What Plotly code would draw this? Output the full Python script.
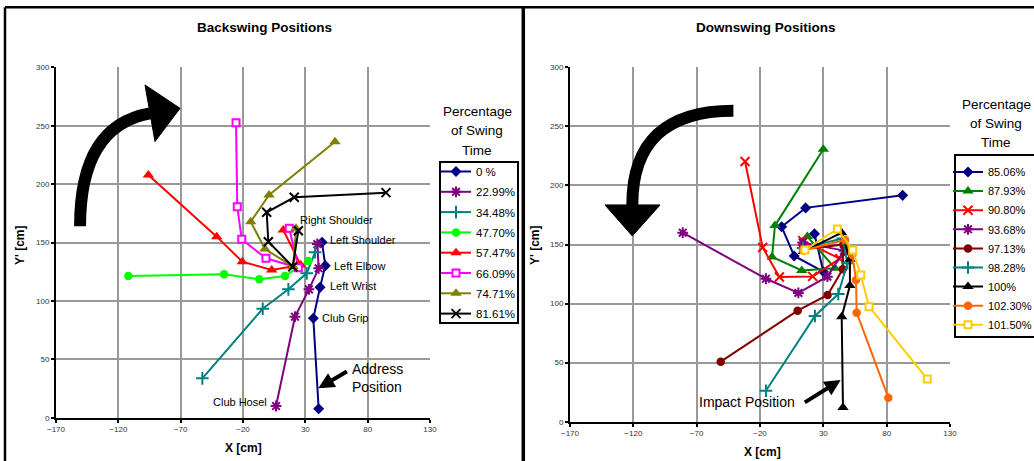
import plotly.graph_objects as go

FONT = "Liberation Sans, Arial, sans-serif"

# ---------------- Backswing data (hosel -> grip -> wrist -> elbow -> L shoulder -> R shoulder)
bs_names = ["0 %", "22.99%", "34.48%", "47.70%", "57.47%", "66.09%", "74.71%", "81.61%"]
bs_000_x = [40.7, 36.4, 41.8, 46.0, 43.4]
bs_000_y = [7.7, 85.1, 111.6, 130.2, 150.2]
bs_023_x = [6.5, 21.7, 32.9, 40.7, 39.6]
bs_023_y = [10.0, 86.5, 109.9, 127.9, 148.7]
bs_034_x = [-52.6, -4.2, 16.4, 31.1, 37.8]
bs_034_y = [33.7, 93.3, 109.9, 123.6, 141.6]
bs_048_x = [-112.0, -35.2, -6.9, 13.7, 32.4]
bs_048_y = [121.3, 122.8, 118.5, 121.3, 134.2]
bs_057_x = [-95.9, -41.1, -20.6, 3.0, 26.3, 12.3]
bs_057_y = [207.8, 155.0, 133.6, 126.5, 130.7, 160.7]
bs_066_x = [-25.6, -24.6, -21.0, -1.6, 24.4, 17.1]
bs_066_y = [252.6, 180.7, 152.7, 136.5, 128.4, 162.2]
bs_075_x = [53.8, 0.9, -13.8, -2.4, 20.3, 22.5]
bs_075_y = [236.3, 190.7, 167.8, 144.4, 129.3, 162.2]
bs_082_x = [94.7, 21.1, -1.0, 0.3, 19.9, 24.4]
bs_082_y = [192.7, 188.7, 175.9, 150.7, 129.3, 160.1]

# ---------------- Downswing data
ds_names = ["85.06%", "87.93%", "90.80%", "93.68%", "97.13%", "98.28%", "100%", "102.30%", "101.50%"]
ds_085_x = [92.6, 16.0, -2.9, 7.0, 30.0, 23.0]
ds_085_y = [191.6, 181.0, 165.0, 140.3, 127.0, 159.0]
ds_088_x = [30.0, -8.2, -10.5, 13.0, 39.2, 17.4]
ds_088_y = [230.6, 166.0, 139.5, 128.0, 129.9, 156.7]
ds_091_x = [-31.8, -17.9, -4.7, 21.6, 43.0, 13.8]
ds_091_y = [220.2, 147.5, 122.5, 123.0, 138.0, 153.3]
ds_094_x = [-81.0, -15.3, 10.3, 33.2, 46.3, 13.7]
ds_094_y = [160.0, 121.0, 109.0, 122.8, 144.8, 151.6]
ds_097_x = [-51.0, 9.7, 33.4, 45.3, 45.8, 14.0]
ds_097_y = [50.8, 94.0, 107.3, 129.0, 150.0, 146.0]
ds_098_x = [-15.3, 23.4, 41.8, 49.0, 45.3, 14.0]
ds_098_y = [26.2, 89.5, 108.1, 134.1, 155.0, 147.0]
ds_100_x = [45.5, 44.5, 51.0, 51.0, 44.5, 14.2]
ds_100_y = [12.0, 88.9, 115.2, 137.5, 160.0, 144.0]
ds_102_x = [81.3, 56.3, 55.8, 52.9, 47.1, 14.0]
ds_102_y = [20.3, 92.3, 120.0, 141.1, 153.8, 145.0]
ds_101_x = [112.1, 66.1, 59.5, 53.2, 41.1, 15.5]
ds_101_y = [36.1, 97.4, 124.2, 145.4, 163.1, 145.4]

x_ticks = [-170, -120, -70, -20, 30, 80, 130]
y_ticks = [0, 50, 100, 150, 200, 250, 300]

W, H = 1034, 461

bs_series = [(bs_000_x, bs_000_y), (bs_023_x, bs_023_y), (bs_034_x, bs_034_y), (bs_048_x, bs_048_y),
             (bs_057_x, bs_057_y), (bs_066_x, bs_066_y), (bs_075_x, bs_075_y), (bs_082_x, bs_082_y)]
bs_style = [("#000080", "diamond"), ("#800080", "asterisk"), ("#008080", "cross-thin"),
            ("#00FF00", "circle"), ("#FF0000", "triangle-up"), ("#FF00FF", "square"),
            ("#808000", "triangle-up"), ("#000000", "x-thin")]

ds_series = [(ds_085_x, ds_085_y), (ds_088_x, ds_088_y), (ds_091_x, ds_091_y), (ds_094_x, ds_094_y),
             (ds_097_x, ds_097_y), (ds_098_x, ds_098_y), (ds_100_x, ds_100_y), (ds_102_x, ds_102_y),
             (ds_101_x, ds_101_y)]
ds_style = [("#000080", "diamond"), ("#008000", "triangle-up"), ("#FF0000", "x-thin"),
            ("#800080", "asterisk"), ("#800000", "circle"), ("#008080", "cross-thin"),
            ("#000000", "triangle-up"), ("#FF6600", "circle"), ("#FFCC00", "square")]


def marker_for(color, sym):
    if sym in ("asterisk", "x-thin", "cross-thin"):
        return dict(symbol=sym, size=9, color=color, line=dict(color=color, width=2))
    if sym == "square":
        return dict(symbol=sym, size=7, color="white", line=dict(color=color, width=2))
    if sym == "triangle-up":
        return dict(symbol=sym, size=10, color=color, line=dict(width=0))
    return dict(symbol=sym, size=8.5, color=color, line=dict(width=0))


fig = go.Figure()
for i, (name, (xs, ys), (c, s)) in enumerate(zip(bs_names, bs_series, bs_style)):
    fig.add_trace(go.Scatter(x=xs, y=ys, name=name, mode="lines+markers", legendgroup="b%d" % i,
                             line=dict(color=c, width=2), marker=marker_for(c, s),
                             xaxis="x", yaxis="y", legend="legend"))
for i, (name, (xs, ys), (c, s)) in enumerate(zip(ds_names, ds_series, ds_style)):
    fig.add_trace(go.Scatter(x=xs, y=ys, name=name, mode="lines+markers", legendgroup="d%d" % i,
                             line=dict(color=c, width=2), marker=marker_for(c, s),
                             xaxis="x2", yaxis="y2", legend="legend2"))

axis_common = dict(showgrid=True, gridcolor="#999999", gridwidth=1.5, zeroline=False,
                   showline=True, linecolor="black", linewidth=2, ticks="outside",
                   ticklen=3, tickwidth=1.5, tickcolor="black",
                   tickfont=dict(family=FONT, size=8, color="#333333"), fixedrange=True)

fig.update_layout(
    width=W, height=H, margin=dict(l=0, r=0, t=0, b=0, autoexpand=False),
    paper_bgcolor="white", plot_bgcolor="white", showlegend=True,
    xaxis=dict(domain=[56 / W, 430 / W], range=[-170, 130], tickvals=x_ticks, anchor="y", **axis_common),
    yaxis=dict(domain=[1 - 417.7 / H, 1 - 67.3 / H], range=[0, 300], tickvals=y_ticks, anchor="x", **axis_common),
    xaxis2=dict(domain=[570 / W, 950 / W], range=[-170, 130], tickvals=x_ticks, anchor="y2", **axis_common),
    yaxis2=dict(domain=[1 - 421.7 / H, 1 - 67.3 / H], range=[0, 300], tickvals=y_ticks, anchor="x2", **axis_common),
    legend=dict(x=436 / W, y=1 - 157 / H, xanchor="left", yanchor="top", bgcolor="rgba(0,0,0,0)",
                borderwidth=0, itemwidth=30, tracegroupgap=1.3,
                font=dict(family=FONT, size=11.5, color="black")),
    legend2=dict(x=948 / W, y=1 - 157.5 / H, xanchor="left", yanchor="top", bgcolor="rgba(0,0,0,0)",
                 borderwidth=0, itemwidth=30, tracegroupgap=0.1,
                 font=dict(family=FONT, size=11, color="black")),
)

shapes = []
# frame lines
shapes.append(dict(type="line", xref="paper", yref="paper", x0=5 / W, x1=1, y0=1 - 7.3 / H, y1=1 - 7.3 / H,
                   line=dict(color="black", width=2.5)))
shapes.append(dict(type="line", xref="paper", yref="paper", x0=5 / W, x1=5 / W, y0=0, y1=1 - 7.3 / H,
                   line=dict(color="black", width=2.5)))
shapes.append(dict(type="line", xref="paper", yref="paper", x0=523.3 / W, x1=523.3 / W, y0=0, y1=1 - 7.3 / H,
                   line=dict(color="black", width=3.5)))
# legend boxes
shapes.append(dict(type="rect", xref="paper", yref="paper", x0=440 / W, x1=518 / W, y0=1 - 323 / H, y1=1 - 162 / H,
                   line=dict(color="black", width=2), fillcolor="rgba(0,0,0,0)"))
shapes.append(dict(type="rect", xref="paper", yref="paper", x0=955 / W, x1=1045 / W, y0=1 - 337 / H, y1=1 - 155 / H,
                   line=dict(color="black", width=2), fillcolor="rgba(0,0,0,0)"))
# curved arrow (backswing)
shapes.append(dict(type="path", xref="x", yref="y", path="M -150.7,164 Q -150.7,250.1 -94.6,260.6",
                   line=dict(color="black", width=12), fillcolor="rgba(0,0,0,0)"))
shapes.append(dict(type="path", xref="x", yref="y", path="M -98.6,284.9 L -70.5,264.9 L -90.6,236.4 Z",
                   line=dict(color="black", width=1), fillcolor="black"))
# curved arrow (downswing)
shapes.append(dict(type="path", xref="x2", yref="y2", path="M -41,263.3 Q -120.8,263.3 -120.8,183.5",
                   line=dict(color="black", width=12), fillcolor="rgba(0,0,0,0)"))
shapes.append(dict(type="path", xref="x2", yref="y2", path="M -142.4,183.5 L -98.9,183.5 L -120.8,157.2 Z",
                   line=dict(color="black", width=1), fillcolor="black"))
fig.update_layout(shapes=shapes)

ann = []


def txt(x, y, s, size=11, xref="paper", yref="paper", xanchor="center", bold=False, angle=0, color="black"):
    ann.append(dict(x=x, y=y, xref=xref, yref=yref, text=("<b>%s</b>" % s) if bold else s, showarrow=False,
                    xanchor=xanchor, yanchor="middle", textangle=angle,
                    font=dict(family=FONT, size=size, color=color)))


# titles
txt(264 / W, 1 - 27.7 / H, "Backswing Positions", size=13.5, bold=True)
txt(766 / W, 1 - 27.7 / H, "Downswing Positions", size=13.5, bold=True)
# axis titles
txt(243 / W, 1 - 448 / H, "X [cm]", size=12, bold=True)
txt(20 / W, 1 - 245 / H, "Y' [cm]", size=12, bold=True, angle=-90)
txt(762 / W, 1 - 451.7 / H, "X [cm]", size=12, bold=True)
txt(535 / W, 1 - 245 / H, "Y' [cm]", size=12, bold=True, angle=-90)
# legend titles
for i, t in enumerate(["Percentage", "of Swing", "Time"]):
    txt(477 / W, 1 - (111.7 + 19.2 * i) / H, t, size=13.5)
    txt(996 / W, 1 - (105 + 18.9 * i) / H, t, size=13.5)
# body point labels
txt(24.4, 169.3, "Right Shoulder", xref="x", yref="y", xanchor="left")
txt(48.4, 152.1, "Left Shoulder", xref="x", yref="y", xanchor="left")
txt(51.6, 129.9, "Left Elbow", xref="x", yref="y", xanchor="left")
txt(48.4, 112.7, "Left Wrist", xref="x", yref="y", xanchor="left")
txt(41.8, 85.6, "Club Grip", xref="x", yref="y", xanchor="left")
txt(1.1, 13.7, "Club Hosel", xref="x", yref="y", xanchor="right")
# position labels
txt(65.8, 41.5, "Address", size=14, xref="x", yref="y", xanchor="left")
txt(65.8, 26.2, "Position", size=14, xref="x", yref="y", xanchor="left")
txt(-30.5, 16.9, "Impact Position", size=14, xref="x2", yref="y2")
# straight arrows
ann.append(dict(x=40.4, y=25.2, xref="x", yref="y", ax=30, ay=-17.6, axref="pixel", ayref="pixel",
                text="", showarrow=True, arrowhead=2, arrowsize=0.8, arrowwidth=4, arrowcolor="black"))
ann.append(dict(x=43.7, y=35.3, xref="x2", yref="y2", ax=-37.4, ay=23.3, axref="pixel", ayref="pixel",
                text="", showarrow=True, arrowhead=2, arrowsize=0.8, arrowwidth=4, arrowcolor="black"))
fig.update_layout(annotations=ann)

fig.write_html("out.html", config={"displayModeBar": False},
               post_script="document.body.style.margin='0px';document.body.style.overflow='hidden';")
